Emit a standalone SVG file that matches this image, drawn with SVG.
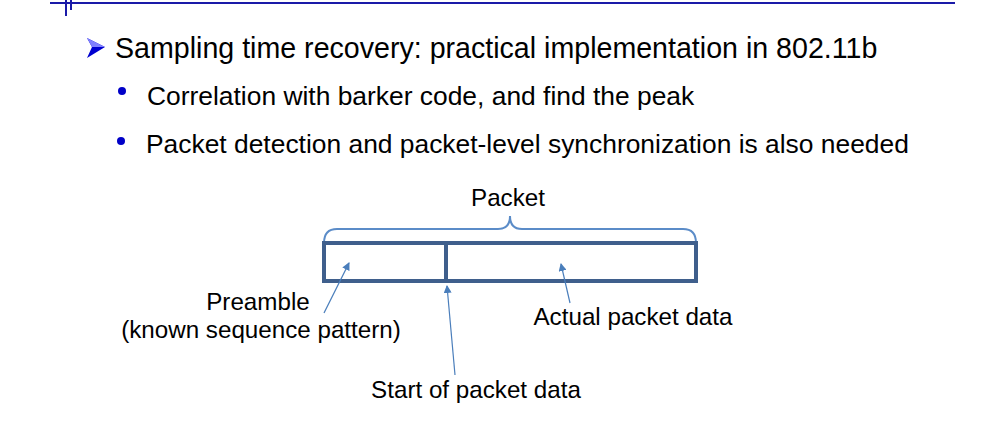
<svg xmlns="http://www.w3.org/2000/svg" width="1002" height="422" viewBox="0 0 1002 422">
<style>
.t{font-family:"Liberation Sans",Arial,sans-serif;fill:#000}
.h{font-size:28.6px}
.b{font-size:26.4px}
.l{font-size:24.2px}
.box{fill:none;stroke:#3f5f8c;stroke-width:4}
.arr{stroke:#4a7ebb;stroke-width:1.2;fill:none}
</style>
<defs>
<marker id="ah" markerWidth="8" markerHeight="8" refX="7" refY="4" orient="auto" markerUnits="userSpaceOnUse">
<path d="M0,0 L8,4 L0,8 Z" fill="#4a7ebb"/>
</marker>
</defs>
<g id="frame">
<line x1="50" y1="3" x2="955" y2="3" stroke="#1a1aa8" stroke-width="2"/>
<line x1="66" y1="0" x2="66" y2="16" stroke="#1a1aa8" stroke-width="2"/>
<line x1="71" y1="0" x2="71" y2="10" stroke="#1a1aa8" stroke-width="2"/>
</g>
<g id="title">
<polygon points="87,38 105,47 87,58 92,47" fill="#0000d0"/>
<polygon points="87,38 105,47 92,47" fill="#8080ff"/>
<text class="t h" x="115" y="58">Sampling time recovery: practical implementation in 802.11b</text>
</g>
<g id="bullets">
<circle cx="122" cy="91" r="4" fill="#0000c8"/>
<text class="t b" x="147" y="105">Correlation with barker code, and find the peak</text>
<circle cx="121" cy="141" r="4" fill="#0000c8"/>
<text class="t b" x="146" y="153">Packet detection and packet-level synchronization is also needed</text>
</g>
<g id="packet">
<text class="t l" x="508" y="206" text-anchor="middle">Packet</text>
<path d="M324,243 Q324,229 337,229 L498,229 Q510,229 510,216 Q510,229 522,229 L683,229 Q696,229 696,243" fill="none" stroke="#5b8cc8" stroke-width="2"/>
<rect class="box" x="324" y="243" width="372" height="38"/>
<line class="box" x1="446" y1="243" x2="446" y2="281"/>
</g>
<g id="connectors">
<line class="arr" x1="324" y1="313" x2="349" y2="263" marker-end="url(#ah)"/>
<line class="arr" x1="455" y1="375" x2="447" y2="286" marker-end="url(#ah)"/>
<line class="arr" x1="570" y1="303" x2="561" y2="264" marker-end="url(#ah)"/>
</g>
<g id="labels">
<text class="t l" x="258" y="310" text-anchor="middle">Preamble</text>
<text class="t l" x="261" y="338" text-anchor="middle">(known sequence pattern)</text>
<text class="t l" x="633" y="325" text-anchor="middle">Actual packet data</text>
<text class="t l" x="476" y="398" text-anchor="middle">Start of packet data</text>
</g>
</svg>
